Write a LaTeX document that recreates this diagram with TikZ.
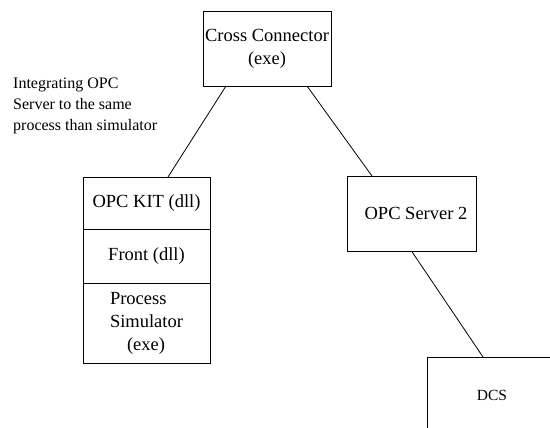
\documentclass[tikz,border=0pt]{standalone}
\usepackage{fontspec}
\setmainfont{Liberation Serif}
\usetikzlibrary{calc}
\begin{document}
\begin{tikzpicture}[x=1pt,y=-1pt,
  box/.style={draw=black, line width=0.9pt, inner sep=0pt, outer sep=0pt,
    align=center, font=\fontsize{18.5}{23}\selectfont},
  wire/.style={draw=black, line width=0.8pt},
  note/.style={inner sep=0pt, align=left, anchor=north west,
    font=\fontsize{16}{21}\selectfont}]
  \clip (0,0) rectangle (550,428);
  \fill[white] (0,0) rectangle (550,428);

  % top-level executable
  \node[box, minimum width=128pt, minimum height=75pt] (cc) at (267,48.5)
    {Cross Connector\\(exe)};

  % simulator process: three stacked layers
  \node[box, minimum width=127pt, minimum height=52pt, anchor=north] (kit) at (146.5,177)
    {OPC KIT (dll)};
  \node[box, minimum width=127pt, minimum height=54pt, anchor=north] (front) at (kit.south)
    {Front (dll)};
  \node[box, minimum width=127pt, minimum height=80pt, align=left, anchor=north] (sim) at (front.south)
    {Process\\Simulator\\\hspace*{17pt}(exe)};

  % second OPC server and the DCS
  \node[box, minimum width=129pt, minimum height=75pt] (opc2) at (411.5,213.5)
    {\hspace*{9pt}OPC Server 2};
  \node[box, minimum width=130pt, minimum height=76pt,
    font=\fontsize{15.5}{19}\selectfont] (dcs) at (492,395) {DCS};

  \node[note] (txt) at (13,78)
    {Integrating OPC\\Server to the same\\process than simulator};

  % connections
  \draw[wire] ([xshift=-41pt]cc.south) -- ([xshift=21.5pt]kit.north);
  \draw[wire] ([xshift=40pt]cc.south) -- ([xshift=-39.5pt]opc2.north);
  \draw[wire] (opc2.south) -- ([xshift=-9pt]dcs.north);
\end{tikzpicture}
\end{document}
